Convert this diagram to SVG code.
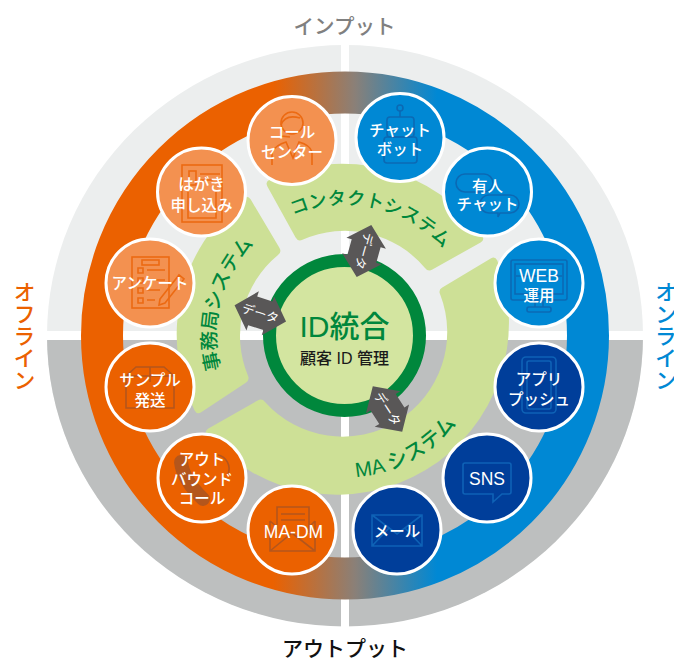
<svg xmlns="http://www.w3.org/2000/svg" width="674" height="660" viewBox="0 0 674 660">
<style>
text{font-family:"Liberation Sans","Noto Sans CJK JP",sans-serif}
.t{fill:#fff;font-size:15.5px;font-weight:500;text-anchor:middle}
.la{font-size:17.5px;font-weight:400}
.c{stroke:#fff;stroke-width:3}
.lo{fill:#f39150}.or{fill:#eb6100}.bl{fill:#0088d4}.nv{fill:#003e9a}
.i{fill:none;stroke-width:1.6}
.io{stroke:#ec6a12}.id{stroke:#b4561c}.ib{stroke:#0b69b4}.in{stroke:#0e62b6}
.sec{fill:#cde096}
.st{fill:#00873c;text-anchor:middle;font-weight:500}
.ar{fill:#595757}
.at{fill:#fff;font-size:12.5px;text-anchor:middle}
.v{font-size:22px;font-weight:500;writing-mode:vertical-rl}
</style>
<defs>
<linearGradient id="g" gradientUnits="userSpaceOnUse" x1="273" y1="0" x2="437" y2="0">
<stop offset="0" stop-color="#eb6100"/><stop offset="0.5" stop-color="#8a8078"/><stop offset="1" stop-color="#0088d4"/>
</linearGradient>
<path id="p1" d="M284.5,219.3 A131,131 0 0 1 448.9,255.7"/>
<path id="p2" d="M233.3,400 A129,129 0 0 1 280.5,223.8"/>
<path id="p3" d="M291.8,467.1 A142,142 0 0 0 483.9,365"/>
<polygon id="arw" points="-27,0 -8,-20.5 -8,-15 8,-15 8,-20.5 27,0 8,20.5 8,15 -8,15 -8,20.5"/>
</defs>

<g id="background">
<ellipse cx="345" cy="335.5" rx="298" ry="290.5" fill="#eceeee"/>
<path d="M47,336 A298,290.5 0 0 0 643,336 Z" fill="#bdbfbf"/>
<rect x="0" y="331" width="674" height="9" fill="#fff"/>
<rect x="341" y="0" width="8" height="660" fill="#fff"/>
<circle cx="345" cy="335.5" r="243" fill="none" stroke="url(#g)" stroke-width="42"/>
</g>

<g id="sector-contact">
<path class="sec" d="M267.4,186.4 Q265,182 269.4,179.7 A172.5,172.5 0 0 1 482.2,235.9 Q485,240 480.6,242.4 L432.4,269.6 Q428,272 425,268 A104.5,104.5 0 0 0 302.5,239.8 Q298,242 295.6,237.6 Z"/>
<text class="st" font-size="18.3"><textPath href="#p1" startOffset="50%">コンタクトシステム</textPath></text>
</g>
<g id="sector-ma">
<path class="sec" d="M490.7,258.5 Q495,256 497.3,260.4 A172,172 0 0 1 206.8,435.1 Q204,431 208.4,428.5 L257.7,400.5 Q262,398 265,402 A104.5,104.5 0 0 0 440.2,294.5 Q438,290 442.3,287.5 Z"/>
<text class="st" font-size="20.5"><textPath href="#p3" startOffset="50%">MA システム</textPath></text>
</g>
<g id="sector-office">
<path class="sec" d="M201.2,412.2 Q197,415 194.6,410.6 A172,172 0 0 1 243.9,197.8 Q248,195 250.6,199.3 L279.4,247.7 Q282,252 278,255 A104.5,104.5 0 0 0 247.9,375.5 Q250,380 245.8,382.8 Z"/>
<text class="st" font-size="19.5"><textPath href="#p2" startOffset="50%">事務局システム</textPath></text>
</g>

<g id="hub">
<circle cx="344.5" cy="335.5" r="75" fill="#d3e5a0" stroke="#00873c" stroke-width="13"/>
<text x="344.5" y="337" font-size="30" font-weight="500" fill="#00873c" text-anchor="middle">ID統合</text>
<text x="344.5" y="364" font-size="16" font-weight="500" fill="#1a1a1a" text-anchor="middle">顧客 ID 管理</text>
</g>

<g id="connectors">
<g transform="translate(364,251) rotate(105.7)"><use href="#arw" class="ar"/><text class="at" y="4.5">データ</text></g>
<g transform="translate(260.3,313.3) rotate(17.6)"><use href="#arw" class="ar"/><text class="at" y="4.5">データ</text></g>
<g transform="translate(387.5,409) rotate(57)"><use href="#arw" class="ar"/><text class="at" y="4.5">データ</text></g>
</g>

<g id="node-call-center">
<circle class="c lo" cx="292" cy="140.5" r="44"/>
<g class="i io"><circle cx="292" cy="123" r="11"/><path d="M281,125 Q285,114 300,118 M272,165 L272,152 Q276,145 286,142 L293,158 L299,142 Q310,145 312,152 L312,165 M281,128 L281,136 L290,137"/></g>
<text class="t" x="292" y="138">コール</text><text class="t" x="292" y="157.5">センター</text>
</g>
<g id="node-postcard">
<circle class="c lo" cx="201.5" cy="192" r="44"/>
<g class="i io"><rect x="182" y="165" width="40" height="57"/><rect x="189" y="171" width="7" height="14"/><path d="M200,174 H220 M200,180 H220 M188,192 V218 H216 V192"/></g>
<text class="t" x="201.5" y="189.5">はがき</text><text class="t" x="201.5" y="210.5">申し込み</text>
</g>
<g id="node-survey">
<circle class="c lo" cx="150" cy="283" r="44"/>
<g class="i io"><rect x="132" y="257" width="37" height="51"/><rect x="142" y="260" width="17" height="5"/><path d="M138,268 H143 V273 H138 Z M147,270 H165 M138,278 H143 V283 H138 Z M147,280 H165 M138,288 H143 V293 H138 Z M147,290 H160 M138,298 H143 V303 H138 Z M147,300 H155 M160,299 L179,275 L184,279 L165,303 L159,305 Z"/></g>
<text class="t" x="150" y="289">アンケート</text>
</g>
<g id="node-sample">
<circle class="c or" cx="150" cy="387" r="44"/>
<g class="i id" stroke-width="2.2"><path d="M126,408 V376 L136,367 H164 L174,376 V408 Z M126,376 H174 M150,367 V382 M138,401 H162"/></g>
<text class="t" x="150" y="386">サンプル</text><text class="t" x="150" y="406">発送</text>
</g>
<g id="node-outbound">
<circle class="c or" cx="202" cy="478" r="44"/>
<path d="M181,462 Q183,480 203,499" fill="none" stroke="#b4561c" stroke-width="14" stroke-linecap="round"/>
<path d="M218,455 A14,14 0 0 1 228,474" fill="none" stroke="#b4561c" stroke-width="1.6"/>
<text class="t" x="202" y="465">アウト</text><text class="t" x="202" y="485">バウンド</text><text class="t" x="202" y="504">コール</text>
</g>
<g id="node-ma-dm">
<circle class="c or" cx="292" cy="530" r="44"/>
<g class="i id"><path d="M277,533 V507 H309 V533 M270,521 V551 H315 V521 M270,521 L277,527 M315,521 L309,527 M270,551 L292,533 L315,551 M281,514 H305 M281,520 H305"/></g>
<text class="t la" x="293.5" y="537.5">MA-DM</text>
</g>
<g id="node-chatbot">
<circle class="c bl" cx="400" cy="137.5" r="44"/>
<g class="i ib"><circle cx="400" cy="108" r="3"/><path d="M400,111 V117"/><rect x="387" y="117" width="27" height="20" rx="3"/><rect x="384" y="137" width="33" height="26" rx="3"/></g>
<text class="t" x="400" y="136">チャット</text><text class="t" x="400" y="155">ボット</text>
</g>
<g id="node-human-chat">
<circle class="c bl" cx="487.5" cy="192" r="44"/>
<g class="i ib"><rect x="456" y="174" width="37" height="18" rx="9"/><path d="M489,195 H510 A9,9 0 0 1 510,213 H500 L498,217 V213 H489 A9,9 0 0 1 489,195 Z"/></g>
<text class="t" x="487.5" y="191.5">有人</text><text class="t" x="487.5" y="210">チャット</text>
</g>
<g id="node-web">
<circle class="c bl" cx="539" cy="283" r="44"/>
<g class="i ib"><rect x="511" y="260" width="56" height="40" rx="2"/><rect x="515" y="264" width="48" height="30"/><path d="M516,276 H562 M535,300 V307 M543,300 V307"/><rect x="527" y="307" width="24" height="5" rx="2"/></g>
<text class="t la" x="539" y="281.5">WEB</text><text class="t" x="539" y="301">運用</text>
</g>
<g id="node-app">
<circle class="c nv" cx="539" cy="387" r="44"/>
<g class="i in"><rect x="522" y="357" width="34" height="56" rx="4"/><rect x="527" y="361" width="24" height="48" rx="2"/></g>
<text class="t" x="539" y="385">アプリ</text><text class="t" x="539" y="404.5">プッシュ</text>
</g>
<g id="node-sns">
<circle class="c nv" cx="487" cy="478" r="44"/>
<path class="i in" d="M465,463 H509 Q511,463 511,465 V492 Q511,494 509,494 H502 L493,502 V494 H465 Q463,494 463,492 V465 Q463,463 465,463 Z"/>
<text class="t la" x="487" y="485">SNS</text>
</g>
<g id="node-mail">
<circle class="c nv" cx="397" cy="530" r="44"/>
<path class="i in" d="M372,515 H422 V546 H372 Z M372,515 L397,534 L422,515 M372,546 L389,528 M422,546 L405,528"/>
<text class="t" x="397" y="536.5">メール</text>
</g>

<g id="labels">
<text x="344.5" y="33.5" font-size="20.5" font-weight="500" fill="#808080" text-anchor="middle">インプット</text>
<text x="345" y="655.5" font-size="21" font-weight="500" fill="#111" text-anchor="middle">アウトプット</text>
<text class="v" x="22" y="281" fill="#eb6100">オフライン</text>
<text class="v" x="663.5" y="281" fill="#0088d4">オンライン</text>
</g>
</svg>
